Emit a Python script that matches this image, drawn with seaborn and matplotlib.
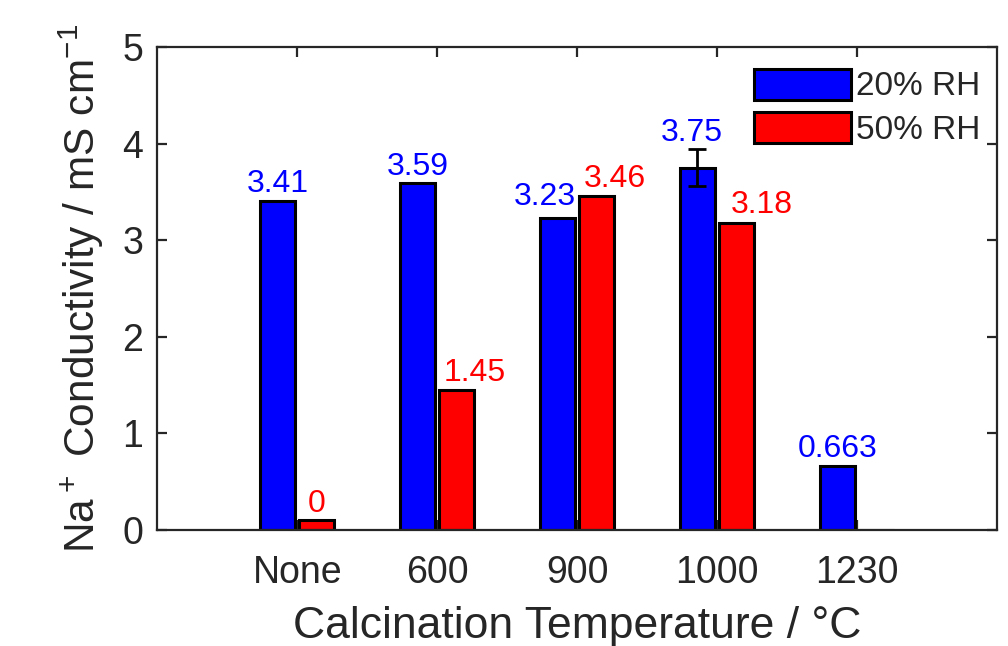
#!/usr/bin/env python3
"""Na+ conductivity vs calcination temperature, grouped bars (MATLAB-like style)."""
import pandas as pd
import matplotlib.pyplot as plt
import seaborn as sns

# data
temps = ['None', '600', '900', '1000', '1230']
rh20 = [3.41, 3.59, 3.23, 3.75, 0.663]
rh50 = [0.1, 1.45, 3.46, 3.18, 0.0]   # "0" sample drawn as a small stub
err20 = [0, 0, 0, 0.19, 0]
labels20 = ['3.41', '3.59', '3.23', '3.75', '0.663']
labels50 = ['0', '1.45', '3.46', '3.18', '']
series = ['20% RH', '50% RH']

# hand nudges (points) the original used to keep labels apart
nudge = {'3.23': (-9, 4), '3.46': (13, 1), '3.18': (18, 2),
         '1.45': (13, 1), '3.75': (-4, 1)}

BLUE = '#0000ff'
RED = '#ff0000'
INK = '#262626'

sns.set_style('ticks')
plt.rcParams['font.family'] = ['Liberation Sans', 'DejaVu Sans']
plt.rcParams['mathtext.default'] = 'regular'

df = pd.DataFrame({
    'temp': temps * 2,
    'value': rh20 + rh50,
    'rh': [series[0]] * len(temps) + [series[1]] * len(temps),
})

fig = plt.figure(figsize=(10.08, 6.46), dpi=100)
ax = fig.add_axes([0.156, 0.180, 0.833, 0.747])

sns.barplot(data=df, x='temp', y='value', hue='rh', order=temps,
            hue_order=series, palette=[BLUE, RED], width=0.56, gap=0.1,
            edgecolor='black', linewidth=2.2, errorbar=None, ax=ax,
            saturation=1)

# error bar + value labels placed from the drawn patches
for cont, labs, errs, col in [(ax.containers[0], labels20, err20, BLUE),
                              (ax.containers[1], labels50, [0] * 5, RED)]:
    for patch, lab, e in zip(cont, labs, errs):
        xc = patch.get_x() + patch.get_width() / 2
        top = patch.get_height()
        if e:
            ax.errorbar(xc, top, yerr=e, color='black', capsize=6.5,
                        elinewidth=2, capthick=2)
        if lab:
            ax.annotate(lab, (xc, top + e), xytext=nudge.get(lab, (0, 1)),
                        textcoords='offset points', ha='center', va='bottom',
                        color=col, fontsize=23)

ax.set_xlim(-1, 5)
ax.set_ylim(0, 5)
ax.set_yticks(range(6))
ax.set_xlabel('Calcination Temperature / \u00b0C', fontsize=32, color=INK,
              labelpad=11)
ax.set_ylabel('Na$^+$ Conductivity / mS cm$^{-1}$', fontsize=30.5, color=INK,
              labelpad=12)
ax.tick_params(direction='in', length=7.5, width=1.6, colors=INK,
               labelsize=27, top=True, right=True, labeltop=False,
               labelright=False)
ax.tick_params(axis='x', pad=18)
ax.tick_params(axis='y', pad=10)
for s in ax.spines.values():
    s.set_visible(True)
    s.set_linewidth(1.6)
    s.set_color(INK)

leg = ax.legend(loc='upper right', bbox_to_anchor=(1.0, 0.99), frameon=False,
                fontsize=24, handlelength=2.9, handleheight=1.05,
                handletextpad=0.15, labelspacing=0.3, borderaxespad=0.1)
for t in leg.get_texts():
    t.set_color(INK)

fig.savefig('out.png', dpi=100)
